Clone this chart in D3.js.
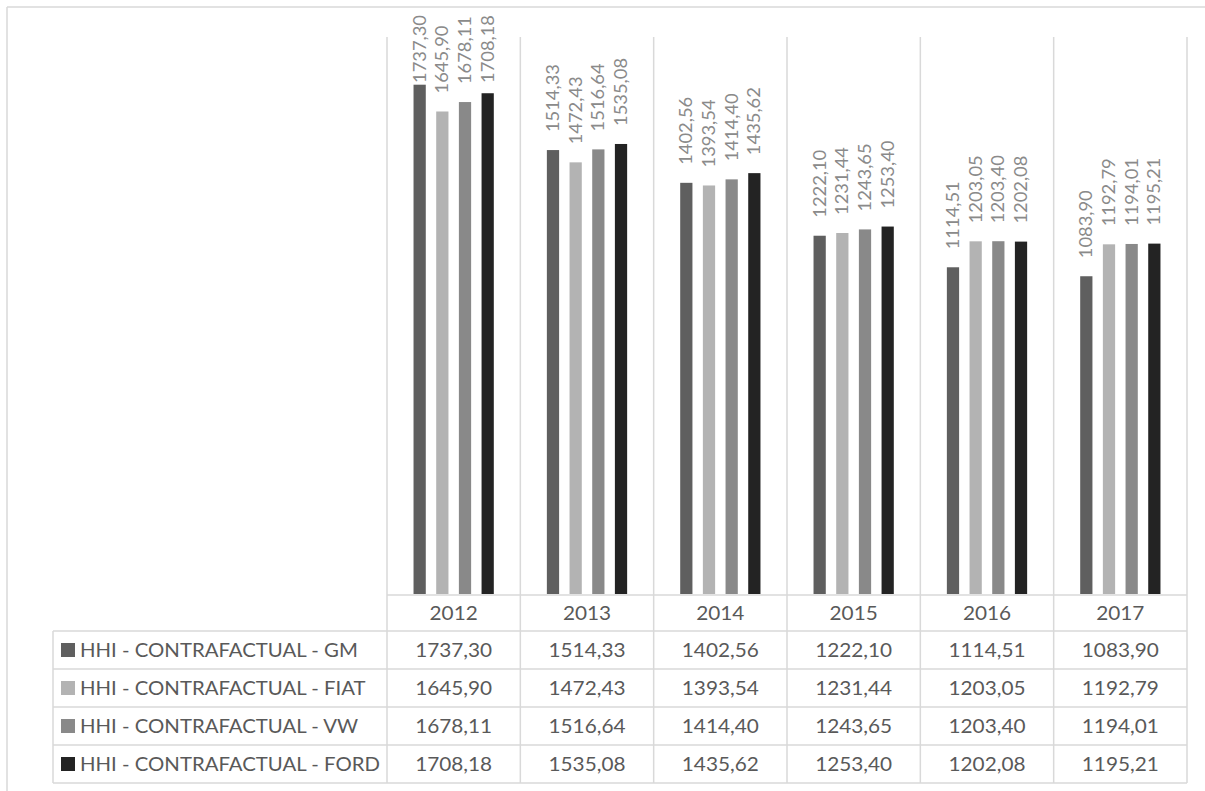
<!DOCTYPE html>
<html>
<head>
<meta charset="utf-8">
<script src="https://cdn.jsdelivr.net/npm/d3@7"></script>
<style>
body { margin: 0; background: #fff; }
</style>
</head>
<body>
<div class="chart"></div>
<script>
var years = ['2012', '2013', '2014', '2015', '2016', '2017'];
var series = ['HHI - CONTRAFACTUAL - GM', 'HHI - CONTRAFACTUAL - FIAT', 'HHI - CONTRAFACTUAL - VW', 'HHI - CONTRAFACTUAL - FORD'];
var gm = [1737.30, 1514.33, 1402.56, 1222.10, 1114.51, 1083.90];
var fiat = [1645.90, 1472.43, 1393.54, 1231.44, 1203.05, 1192.79];
var vw = [1678.11, 1516.64, 1414.40, 1243.65, 1203.40, 1194.01];
var ford = [1708.18, 1535.08, 1435.62, 1253.40, 1202.08, 1195.21];
var values = [gm, fiat, vw, ford];
var colors = ['#5f5f5f', '#b3b3b3', '#898989', '#232323'];

var width = 1205;
var height = 791;
var font = "Lato, 'Open Sans', sans-serif";
var line_color = '#d9d9d9';
var chart_svg;

function fmt(v) {
	return d3.format('.2f')(v).replace('.', ',');
}

function draw() {
	chart_svg = d3.select('.chart')
		.append('svg')
		.attr('width', width)
		.attr('height', height);

	// scales
	var x0 = d3.scaleBand().domain(years).range([387, 1187]);
	var x1 = d3.scaleBand().domain(series).range([0, x0.bandwidth()])
		.paddingInner(0.46).paddingOuter(1.17);
	var y = d3.scaleLinear().domain([0, 1900]).range([594, 37]);
	var rows = d3.scaleBand().domain(series).range([631, 783]);

	draw_frame();
	draw_grid(x0, y, rows);
	draw_bars(x0, x1, y);
	draw_table(x0, rows);
}

function draw_frame() {
	chart_svg.append('line')
		.attr('x1', 7).attr('x2', width).attr('y1', 7).attr('y2', 7)
		.attr('stroke', line_color).attr('stroke-width', 1.5);
	chart_svg.append('line')
		.attr('x1', 7).attr('x2', 7).attr('y1', 7).attr('y2', height)
		.attr('stroke', line_color).attr('stroke-width', 1.5);
}

function draw_grid(x0, y, rows) {
	var g = chart_svg.append('g').attr('class', 'grid')
		.attr('stroke', line_color).attr('stroke-width', 1.5);
	var bottom = rows.range()[1];
	var edges = years.map(function(d) { return x0(d); }).concat([x0.range()[1]]);

	// column lines run through plot and table
	g.selectAll('line.col')
		.data(edges)
		.enter()
		.append('line')
		.attr('class', 'col')
		.attr('x1', function(d) { return d; })
		.attr('x2', function(d) { return d; })
		.attr('y1', y.range()[1])
		.attr('y2', bottom);

	// left edge of the legend column
	g.append('line')
		.attr('x1', 53).attr('x2', 53)
		.attr('y1', rows.range()[0]).attr('y2', bottom);

	// header top
	g.append('line')
		.attr('x1', x0.range()[0]).attr('x2', x0.range()[1])
		.attr('y1', y.range()[0] + 1).attr('y2', y.range()[0] + 1);

	// row lines
	var row_edges = series.map(function(d) { return rows(d); }).concat([bottom]);
	g.selectAll('line.row')
		.data(row_edges)
		.enter()
		.append('line')
		.attr('class', 'row')
		.attr('x1', 53)
		.attr('x2', x0.range()[1])
		.attr('y1', function(d) { return d; })
		.attr('y2', function(d) { return d; });
}

function text_stretch(font_size, target) {
	// how much to widen text so "1737,30" is as wide as in the picture
	var probe = chart_svg.append('text')
		.attr('font-family', font)
		.attr('font-size', font_size)
		.text('1737,30');
	var w = probe.node().getComputedTextLength();
	probe.remove();
	return target / w;
}

function stretch(sel, sx) {
	sel.each(function() {
		var len = this.getComputedTextLength();
		d3.select(this)
			.attr('textLength', len * sx)
			.attr('lengthAdjust', 'spacingAndGlyphs');
	});
}

function draw_bars(x0, x1, y) {
	var label_size = 16.5;
	var sx = text_stretch(label_size, 68);

	var groups = chart_svg.append('g').attr('class', 'bars')
		.selectAll('g')
		.data(years)
		.enter()
		.append('g')
		.attr('transform', function(d) { return 'translate(' + x0(d) + ',0)'; });

	var cells = function(d, i) {
		return series.map(function(s, j) {
			return {s: s, j: j, v: values[j][i]};
		});
	};

	groups.selectAll('rect')
		.data(cells)
		.enter()
		.append('rect')
		.attr('x', function(d) { return x1(d.s); })
		.attr('y', function(d) { return y(d.v); })
		.attr('width', x1.bandwidth())
		.attr('height', function(d) { return y(0) - y(d.v); })
		.attr('fill', function(d) { return colors[d.j]; });

	// rotated value labels, kept below the top of the chart
	var labels = groups.selectAll('text')
		.data(cells)
		.enter()
		.append('text')
		.attr('font-family', font)
		.attr('font-size', label_size)
		.attr('fill', '#8a8a8a')
		.attr('dy', '0.36em')
		.text(function(d) { return fmt(d.v); });
	stretch(labels, sx);

	labels.attr('transform', function(d) {
		var len = +this.getAttribute('textLength');
		var base = Math.max(y(d.v) - 18, 15 + len);
		var cx = x1(d.s) + x1.bandwidth() / 2;
		return 'translate(' + cx + ',' + base + ') rotate(-90)';
	});
}

function draw_table(x0, rows) {
	var size = 19;
	var sx = text_stretch(size, 77);
	var g = chart_svg.append('g').attr('class', 'table')
		.attr('font-family', font)
		.attr('font-size', size)
		.attr('fill', '#595959');

	// year header
	var head = g.selectAll('text.year')
		.data(years)
		.enter()
		.append('text')
		.attr('class', 'year')
		.attr('x', function(d) { return x0(d) + x0.bandwidth() / 2; })
		.attr('y', 613)
		.attr('dy', '0.36em')
		.attr('text-anchor', 'middle')
		.text(function(d) { return d; });
	stretch(head, sx);

	// legend keys
	g.selectAll('rect.key')
		.data(series)
		.enter()
		.append('rect')
		.attr('class', 'key')
		.attr('x', 61)
		.attr('y', function(d) { return rows(d) + rows.bandwidth() / 2 - 7; })
		.attr('width', 14)
		.attr('height', 14)
		.attr('fill', function(d, i) { return colors[i]; });

	var names = g.selectAll('text.name')
		.data(series)
		.enter()
		.append('text')
		.attr('class', 'name')
		.attr('x', 80)
		.attr('y', function(d) { return rows(d) + rows.bandwidth() / 2; })
		.attr('dy', '0.36em')
		.text(function(d) { return d; });
	stretch(names, sx * 0.98);

	// value cells
	series.forEach(function(s, j) {
		var cells = g.selectAll('text.v' + j)
			.data(values[j])
			.enter()
			.append('text')
			.attr('class', 'v' + j)
			.attr('x', function(d, i) { return x0(years[i]) + x0.bandwidth() / 2; })
			.attr('y', rows(s) + rows.bandwidth() / 2)
			.attr('dy', '0.36em')
			.attr('text-anchor', 'middle')
			.text(function(d) { return fmt(d); });
		stretch(cells, sx);
	});
}

draw();
</script>
</body>
</html>
